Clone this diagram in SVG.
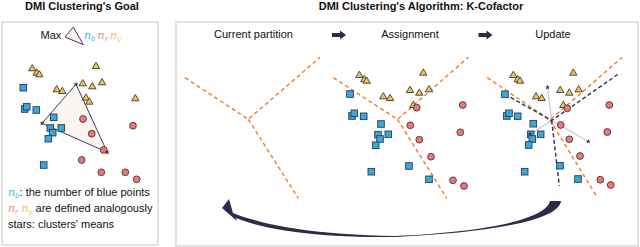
<svg xmlns="http://www.w3.org/2000/svg" width="640" height="247" viewBox="0 0 640 247">
<style>
.title{font-family:"Liberation Sans",Arial,sans-serif;font-size:11px;font-weight:bold;fill:#111}
.lbl{font-family:"Liberation Sans",Arial,sans-serif;font-size:11px;fill:#111}
.math{font-family:"DejaVu Serif","Liberation Serif",serif;font-style:italic;font-size:11px}
.sub{font-size:7px}
.panel{fill:#fff;stroke:#d9d9d9;stroke-width:1.5}
.ora{fill:none;stroke:#f07b2c;stroke-width:1.4;stroke-dasharray:4 3}
.dk{fill:none;stroke:#2f3150;stroke-width:1.4;stroke-dasharray:4 2.5}
.gr{fill:none;stroke:#c9c9c9;stroke-width:1.2}
.t{fill:#f5c443;stroke:#3a3a4a;stroke-width:0.9}
.s{fill:#3aa8db;stroke:#2b3a52;stroke-width:0.9}
.c{fill:#f27575;stroke:#3a3a4a;stroke-width:0.9}
.st{fill:#2f3150}
.blk{fill:#2b2d48}
</style>
<defs>
<polygon id="tri" points="0,-3.8 3.7,2.5 -3.7,2.5"/>
<rect id="sq" x="-3.3" y="-3.3" width="6.6" height="6.6"/>
<circle id="ci" r="3.4"/>
<polygon id="star" points="0,-2.6 0.6,-0.8 2.5,-0.8 1,0.3 1.5,2.1 0,1 -1.5,2.1 -1,0.3 -2.5,-0.8 -0.6,-0.8"/>
</defs>

<text class="title" x="82" y="10" text-anchor="middle">DMI Clustering's Goal</text>
<text class="title" x="421" y="10" text-anchor="middle">DMI Clustering's Algorithm: K-Cofactor</text>

<g id="goal">
<rect class="panel" x="2" y="22" width="156" height="223"/>
<text class="lbl" x="40.5" y="38.5">Max</text>
<polygon points="65,37 73.3,27 83.3,44.7" fill="#fbf3ec" stroke="#3b3d5a" stroke-width="1"/>
<text class="math" x="84" y="39"><tspan fill="#4ab6e6">n<tspan class="sub" dy="2">b</tspan></tspan><tspan fill="#f28a7e" dy="-2" dx="2">n<tspan class="sub" dy="2">r</tspan></tspan><tspan fill="#f5c24a" dy="-2" dx="2">n<tspan class="sub" dy="2">y</tspan></tspan></text>
<polygon points="76,84.3 42,123.3 107.3,152.3" fill="#fcf5ef" stroke="#3b3d5a" stroke-width="1"/>
<g class="t">
<use href="#tri" x="32.3" y="68.3"/><use href="#tri" x="36.7" y="72.7"/><use href="#tri" x="39.3" y="74.3"/><use href="#tri" x="96" y="66"/><use href="#tri" x="56.7" y="89.3"/><use href="#tri" x="62.3" y="91"/><use href="#tri" x="82.7" y="83.3"/><use href="#tri" x="92.3" y="86.3"/><use href="#tri" x="102" y="82.3"/><use href="#tri" x="86" y="97.7"/><use href="#tri" x="89.3" y="101.7"/><use href="#tri" x="135.3" y="98.3"/>
</g>
<g class="s">
<use href="#sq" x="23.3" y="87.7"/><use href="#sq" x="24.7" y="109"/><use href="#sq" x="26.7" y="106.7"/><use href="#sq" x="36.3" y="110"/><use href="#sq" x="53.7" y="117.3"/><use href="#sq" x="50.3" y="128"/><use href="#sq" x="52.7" y="132.7"/><use href="#sq" x="48.3" y="138.7"/><use href="#sq" x="61.3" y="128"/><use href="#sq" x="43.7" y="165"/>
</g>
<g class="c">
<use href="#ci" x="83" y="119"/><use href="#ci" x="91.7" y="133.7"/><use href="#ci" x="103.7" y="150"/><use href="#ci" x="133" y="125.7"/><use href="#ci" x="81.7" y="160"/><use href="#ci" x="101.3" y="172.3"/><use href="#ci" x="125.3" y="172.3"/><use href="#ci" x="136.7" y="179.3"/>
</g>
<g class="st">
<use href="#star" x="76" y="84.3"/><use href="#star" x="42" y="123.3"/><use href="#star" x="107.3" y="152.3"/>
</g>
<text class="lbl" x="8" y="196"><tspan class="math" fill="#4ab6e6">n<tspan class="sub" dy="2">b</tspan></tspan><tspan dy="-2">: the number of blue points</tspan></text>
<text class="lbl" x="8" y="211.5"><tspan class="math" fill="#f28a7e">n<tspan class="sub" dy="2">r</tspan></tspan><tspan class="math" fill="#f5c24a" dy="-2" dx="3">n<tspan class="sub" dy="2">y</tspan></tspan><tspan dy="-2"> are defined analogously</tspan></text>
<text class="lbl" x="8" y="227.5">stars: clusters' means</text>
</g>

<g id="algorithm">
<rect class="panel" x="176" y="22" width="462" height="224"/>
</g>

<g id="current">
<text class="lbl" x="253.5" y="37.5" text-anchor="middle">Current partition</text>
<polyline class="ora" points="185,77.7 248.3,119.3 320,57.3"/>
<line class="ora" x1="248.3" y1="119.3" x2="298.3" y2="198.3"/>
</g>

<g id="assignment">
<text class="lbl" x="410" y="37.5" text-anchor="middle">Assignment</text>
<polyline class="ora" points="333.3,77.7 397.5,119.3 468.3,57.3"/>
<line class="ora" x1="397.5" y1="119.3" x2="446.7" y2="198.3"/>
<g class="t">
<use href="#tri" x="359.3" y="75"/><use href="#tri" x="364.3" y="79.3"/><use href="#tri" x="366.7" y="80.7"/><use href="#tri" x="423.3" y="72.7"/><use href="#tri" x="383.3" y="96.3"/><use href="#tri" x="390" y="98"/><use href="#tri" x="410" y="90"/><use href="#tri" x="419.3" y="92.7"/><use href="#tri" x="429" y="89.3"/><use href="#tri" x="413.3" y="105"/>
</g>
<g class="s">
<use href="#sq" x="350" y="94"/><use href="#sq" x="352" y="116"/><use href="#sq" x="354.3" y="113.3"/><use href="#sq" x="363.7" y="116.3"/><use href="#sq" x="381" y="124"/><use href="#sq" x="378" y="134.7"/><use href="#sq" x="380" y="139"/><use href="#sq" x="375.7" y="145.3"/><use href="#sq" x="388.3" y="134.3"/><use href="#sq" x="371.3" y="171.7"/><use href="#sq" x="409" y="166"/><use href="#sq" x="429" y="179.3"/>
</g>
<g class="c">
<use href="#ci" x="416.7" y="107.7"/><use href="#ci" x="462.7" y="105"/><use href="#ci" x="410.3" y="125.3"/><use href="#ci" x="419.3" y="139.7"/><use href="#ci" x="431" y="156.7"/><use href="#ci" x="460.3" y="132.3"/><use href="#ci" x="453" y="180.3"/><use href="#ci" x="464" y="186"/>
</g>
</g>

<g id="update">
<text class="lbl" x="553" y="37.5" text-anchor="middle">Update</text>
<polyline class="gr" points="547.5,87.3 551.7,120.5 588.3,141.5"/>
<line class="gr" x1="551.7" y1="120.5" x2="530" y2="134"/>
<polyline class="ora" points="487.3,77.7 550,120 622,57.5"/>
<line class="ora" x1="550" y1="120" x2="597" y2="197"/>
<polyline class="dk" points="505,94.3 551.7,120.5 617.7,74.5"/>
<line class="dk" x1="551.7" y1="120.5" x2="559.3" y2="186"/>
<g class="t">
<use href="#tri" x="513.3" y="75"/><use href="#tri" x="517.7" y="79.3"/><use href="#tri" x="520" y="80.7"/><use href="#tri" x="573.3" y="72.7"/><use href="#tri" x="536" y="96.3"/><use href="#tri" x="541.7" y="98"/><use href="#tri" x="560.3" y="90"/><use href="#tri" x="569.3" y="92.7"/><use href="#tri" x="578.7" y="89.3"/><use href="#tri" x="563.3" y="105"/>
</g>
<g class="s">
<use href="#sq" x="505" y="94.3"/><use href="#sq" x="506.7" y="116"/><use href="#sq" x="509" y="113.3"/><use href="#sq" x="517.7" y="116.3"/><use href="#sq" x="533.3" y="123.7"/><use href="#sq" x="530.7" y="134.3"/><use href="#sq" x="532.3" y="139"/><use href="#sq" x="528.7" y="145"/><use href="#sq" x="540.7" y="134.3"/><use href="#sq" x="524.7" y="171.7"/><use href="#sq" x="560" y="165.7"/><use href="#sq" x="578" y="179"/>
</g>
<g class="c">
<use href="#ci" x="567.3" y="108.3"/><use href="#ci" x="609.3" y="105"/><use href="#ci" x="560.7" y="125"/><use href="#ci" x="569.3" y="139.3"/><use href="#ci" x="580" y="156"/><use href="#ci" x="607.3" y="132"/><use href="#ci" x="600.3" y="179.7"/><use href="#ci" x="610.7" y="185"/>
</g>
<g class="st">
<use href="#star" x="547.5" y="87.3"/><use href="#star" x="588.3" y="141.5"/><use href="#star" x="530" y="134"/>
</g>
</g>

<g id="connectors">
<polygon class="blk" points="332,33 340,33 340,30.5 346,35 340,39.5 340,37 332,37"/>
<polygon class="blk" points="478.5,33 486.5,33 486.5,30.5 492.5,35 486.5,39.5 486.5,37 478.5,37"/>
<path class="blk" d="M561,201 C559,222 480,233 395,237 C320,238 265,230 236,218 L237,221 L222,208 L229,199 L233,213 C265,226 320,235 395,236 C470,233 545,222 550,201 Z"/>
</g>
</svg>
